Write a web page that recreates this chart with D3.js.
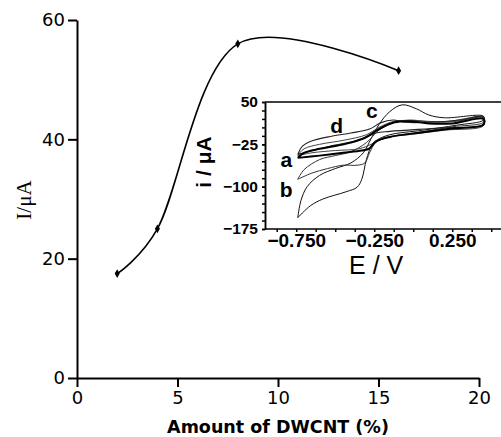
<!DOCTYPE html>
<html>
<head>
<meta charset="utf-8">
<script src="https://cdn.jsdelivr.net/npm/d3@7"></script>
<style>
  body { margin: 0; background: #fff; }
  svg { display: block; }
</style>
</head>
<body>
<div id="chart"></div>
<script>
// main plot: peak current vs DWCNT amount
var amount = [2, 4, 8, 16];
var current = [17.5, 25, 56, 51.5];
var mainXTicks = [0, 5, 10, 15, 20];
var mainYTicks = [0, 20, 40, 60];

// inset: cyclic voltammograms, [E (V), i (uA)], anodic sweep then cathodic back
var cvBig = [[-0.74,-155],[-0.72,-125],[-0.68,-100],[-0.6,-80],[-0.5,-68],[-0.4,-58],[-0.32,-40],[-0.27,-15],[-0.22,10],[-0.15,33],[-0.07,45],[0.02,38],[0.1,27],[0.2,22],[0.45,25],
             [0.45,18],[0.28,9],[0.06,0],[-0.15,-8],[-0.23,-17],[-0.265,-26],[-0.3,-52],[-0.33,-87],[-0.36,-101],[-0.43,-109],[-0.58,-122],[-0.66,-134],[-0.74,-155]];
var cvB = [[-0.74,-87],[-0.7,-70],[-0.6,-52],[-0.5,-45],[-0.4,-38],[-0.3,-22],[-0.22,0],[-0.12,14],[-0.02,18],[0.1,15],[0.25,15],[0.45,22],
           [0.45,14],[0.25,6],[0.05,-3],[-0.15,-12],[-0.24,-22],[-0.28,-40],[-0.31,-58],[-0.36,-62],[-0.45,-62],[-0.55,-68],[-0.65,-76],[-0.74,-87]];
var cvA = [[-0.74,-49],[-0.7,-40],[-0.6,-33],[-0.5,-28],[-0.4,-22],[-0.3,-12],[-0.22,2],[-0.12,14],[-0.02,16],[0.1,12],[0.25,12],[0.45,20],
           [0.45,10],[0.25,3],[0.05,-4],[-0.15,-12],[-0.24,-20],[-0.28,-32],[-0.33,-36],[-0.45,-40],[-0.6,-45],[-0.74,-49]];
var cvD = [[-0.74,-43],[-0.71,-28],[-0.66,-20],[-0.53,-11],[-0.4,-5],[-0.28,2],[-0.21,13],[-0.13,18],[-0.05,14],[0.1,14],[0.3,18],[0.45,24],
           [0.45,10],[0.17,4],[-0.15,-2],[-0.24,-5],[-0.34,-17],[-0.53,-28],[-0.66,-37],[-0.74,-43]];
var cvE = [[-0.74,-45],[-0.7,-33],[-0.6,-25],[-0.45,-18],[-0.3,-8],[-0.22,5],[-0.12,16],[0,17],[0.2,15],[0.45,22],
           [0.45,8],[0.2,0],[0,-7],[-0.2,-14],[-0.27,-25],[-0.35,-33],[-0.5,-36],[-0.65,-40],[-0.74,-45]];
var insetXTicks = [-0.75, -0.25, 0.25];
var insetYTicks = [50, -25, -100, -175];
var curveLabels = [["a", -0.814, -65], ["b", -0.814, -118], ["c", -0.265, 21], ["d", -0.49, -5]];

var W = 501, H = 437;
var svg = d3.select("#chart").append("svg").attr("width", W).attr("height", H);

var x = d3.scaleLinear().domain([0, 20]).range([77, 479]);
var y = d3.scaleLinear().domain([0, 60]).range([378, 20]);

var font = "'Liberation Sans', Arial, sans-serif";
var wide = "'DejaVu Sans', Verdana, sans-serif";

var gx = svg.append("g").attr("transform", "translate(0," + y(0) + ")")
    .call(d3.axisBottom(x).tickValues(mainXTicks).tickSize(9).tickSizeOuter(0).tickPadding(4));
var gy = svg.append("g").attr("transform", "translate(" + x(0) + ",0)")
    .call(d3.axisLeft(y).tickValues(mainYTicks).tickSize(9).tickSizeOuter(0).tickPadding(3));
[gx, gy].forEach(function (g) {
  g.selectAll("path,line").attr("stroke", "#000").attr("stroke-width", 2);
  g.selectAll("text").attr("fill", "#000").style("font-family", wide).style("font-size", "18px");
});

svg.append("text")
  .attr("x", 278).attr("y", 433)
  .attr("text-anchor", "middle")
  .style("font-family", wide).style("font-size", "17.5px").style("font-weight", "bold")
  .text("Amount of DWCNT (%)");

svg.append("text")
  .attr("transform", "translate(31,200) rotate(-90)")
  .attr("text-anchor", "middle")
  .style("font-family", "'Liberation Serif', 'Times New Roman', serif").style("font-size", "21px")
  .text("I/\u03bcA");

var pts = amount.map(function (d, i) { return [d, current[i]]; });
svg.append("path")
  .attr("d", d3.line().x(function (d) { return x(d[0]); }).y(function (d) { return y(d[1]); })
    .curve(d3.curveCatmullRom.alpha(0.2))(pts))
  .attr("fill", "none").attr("stroke", "#000").attr("stroke-width", 1.6);
svg.selectAll(".pt").data(pts).enter().append("path")
  .attr("transform", function (d) { return "translate(" + x(d[0]) + "," + y(d[1]) + ")"; })
  .attr("d", d3.symbol(d3.symbolDiamond, 22));

// ---- inset ----
var xi = d3.scaleLinear().domain([-0.95, 0.56]).range([265, 500.6]);
var yi = d3.scaleLinear().domain([-175, 50]).range([229, 102]);

var ins = svg.append("g");
ins.append("line").attr("x1", xi(-0.95)).attr("x2", W).attr("y1", yi(50)).attr("y2", yi(50))
  .attr("stroke", "#000").attr("stroke-width", 1.5);

var gxm = ins.append("g").attr("transform", "translate(0," + yi(-175) + ")")
  .call(d3.axisBottom(xi).tickValues(d3.range(-0.875, 0.56, 0.125)).tickSize(3).tickSizeOuter(0).tickFormat(""));
var gxi = ins.append("g").attr("transform", "translate(0," + yi(-175) + ")")
  .call(d3.axisBottom(xi).tickValues(insetXTicks).tickSize(0).tickSizeOuter(0).tickPadding(5).tickFormat(d3.format(".3f")));
var gym = ins.append("g").attr("transform", "translate(" + xi(-0.95) + ",0)")
  .call(d3.axisLeft(yi).tickValues(d3.range(-175, 51, 15)).tickSize(3).tickSizeOuter(0).tickFormat(""));
var gyi = ins.append("g").attr("transform", "translate(" + xi(-0.95) + ",0)")
  .call(d3.axisLeft(yi).tickValues(insetYTicks).tickSize(3).tickSizeOuter(0).tickPadding(4));
gxm.select(".domain").attr("d", "M" + xi(-0.95) + ",0H" + W);
[gxm, gxi, gym, gyi].forEach(function (g) {
  g.selectAll("path,line").attr("stroke", "#000").attr("stroke-width", 1.5);
  g.selectAll("text").attr("fill", "#000").style("font-family", font).style("font-weight", "bold");
});
gxi.select(".domain").remove();
gxi.selectAll("text").style("font-size", "19px");
gyi.selectAll("text").style("font-size", "15.5px");

ins.append("text")
  .attr("x", xi(-0.25) + 2).attr("y", 274)
  .attr("text-anchor", "middle")
  .style("font-family", font).style("font-size", "25px")
  .text("E / V");
ins.append("text")
  .attr("transform", "translate(211,162) rotate(-90)")
  .attr("text-anchor", "middle")
  .style("font-family", font).style("font-size", "21px").style("font-weight", "bold")
  .text("i / \u03bcA");

var cvLine = d3.line().x(function (d) { return xi(d[0]); }).y(function (d) { return yi(d[1]); })
  .curve(d3.curveCatmullRom.alpha(0.5));
var cvs = [[cvBig, 1, "#111"], [cvB, 1, "#333"], [cvE, 1, "#444"], [cvD, 1.1, "#222"], [cvA, 2, "#000"]];
cvs.forEach(function (c) {
  ins.append("path").attr("d", cvLine(c[0]))
    .attr("fill", "none").attr("stroke", c[2]).attr("stroke-width", c[1]);
});

ins.selectAll(".lbl").data(curveLabels).enter().append("text")
  .attr("x", function (d) { return xi(d[1]); })
  .attr("y", function (d) { return yi(d[2]); })
  .attr("text-anchor", "middle")
  .style("font-family", font).style("font-size", "21px").style("font-weight", "bold")
  .text(function (d) { return d[0]; });
</script>
</body>
</html>
